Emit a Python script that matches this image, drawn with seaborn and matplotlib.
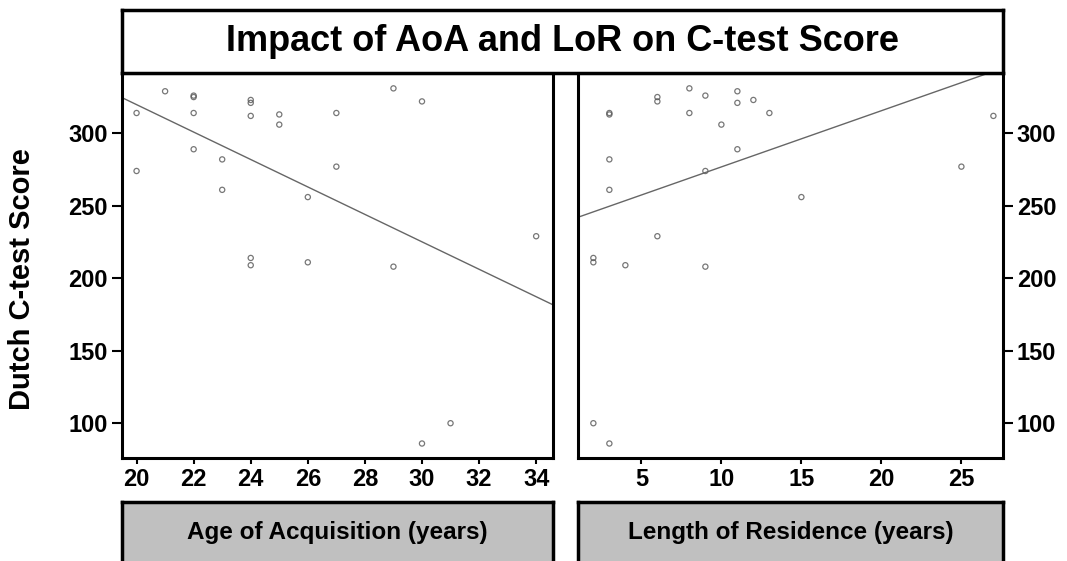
import matplotlib
matplotlib.use("Agg")
import matplotlib.pyplot as plt
import seaborn as sns
import pandas as pd

# Participants: age of acquisition, length of residence, Dutch C-test score
aoa = [30, 31, 34, 29, 24, 26, 24, 26, 23, 20, 27, 23, 22,
       25, 24, 25, 20, 22, 27, 24, 30, 24, 22, 22, 21, 29]
lor = [3, 2, 6, 9, 4, 2, 2, 15, 3, 9, 25, 3, 11,
       10, 27, 3, 3, 8, 13, 11, 6, 12, 6, 9, 11, 8]
score = [86, 100, 229, 208, 209, 211, 214, 256, 261, 274, 277, 282, 289,
         306, 312, 313, 314, 314, 314, 321, 322, 323, 325, 326, 329, 331]

title = "Impact of AoA and LoR on C-test Score"
ylabel = "Dutch C-test Score"
panel_labels = ["Age of Acquisition (years)", "Length of Residence (years)"]
aoa_ticks = [20, 22, 24, 26, 28, 30, 32, 34]
lor_ticks = [5, 10, 15, 20, 25]
score_ticks = [100, 150, 200, 250, 300]

df = pd.DataFrame({"aoa": aoa, "lor": lor, "score": score})

sns.set_theme(style="white")
plt.rcParams["font.family"] = ["Liberation Sans", "DejaVu Sans"]
plt.rcParams["font.weight"] = "bold"
plt.rcParams["text.color"] = "black"

W, H = 1067, 561
fig = plt.figure(figsize=(W / 100, H / 100), dpi=100)
fig.patch.set_facecolor("white")


def px_axes(x0, y0, x1, y1):
    return fig.add_axes([x0 / W, 1 - y1 / H, (x1 - x0) / W, (y1 - y0) / H])


ax_l = px_axes(122, 73, 553, 458)
ax_r = px_axes(578, 73, 1003, 458)
ax_t = px_axes(122, 10, 1003, 73)
strip_l = px_axes(122, 502, 553, 570)
strip_r = px_axes(578, 502, 1003, 570)

ylim = (76, 341.6)
scatter_kws = dict(s=14, facecolors="none", edgecolors="#555555", linewidths=0.9)
line_kws = dict(color="#666666", lw=1.0)

for ax, col, xlim, xt in [(ax_l, "aoa", (19.49, 34.59), aoa_ticks),
                          (ax_r, "lor", (1.04, 27.6), lor_ticks)]:
    ax.set_xlim(*xlim)
    ax.set_ylim(*ylim)
    sns.regplot(data=df, x=col, y="score", ax=ax, ci=None, truncate=False,
                scatter_kws=scatter_kws, line_kws=line_kws)
    ax.set_xlim(*xlim)
    ax.set_ylim(*ylim)
    ax.set_xlabel("")
    ax.set_ylabel("")
    ax.set_xticks(xt)
    ax.set_yticks(score_ticks)
    ax.set_facecolor("white")
    for sp in ax.spines.values():
        sp.set_visible(True)
        sp.set_color("black")
        sp.set_linewidth(2.2)
    ax.tick_params(axis="x", bottom=True, direction="out", length=4, width=1.5,
                   labelsize=17, pad=3, colors="black")
    ax.tick_params(axis="y", direction="out", length=7, width=1.5,
                   labelsize=17, pad=3, colors="black")
    for lbl in ax.get_xticklabels() + ax.get_yticklabels():
        lbl.set_fontweight("bold")

ax_l.tick_params(axis="y", left=True, right=False, labelleft=True, labelright=False)
ax_r.tick_params(axis="y", left=False, right=True, labelleft=False, labelright=True)

fig.text(22 / W, 1 - 279 / H, ylabel, rotation=90, ha="center", va="center",
         fontsize=21, fontweight="bold", color="black")

# Title banner
ax_t.set_xticks([])
ax_t.set_yticks([])
ax_t.set_facecolor("white")
for sp in ax_t.spines.values():
    sp.set_linewidth(2.5)
    sp.set_color("black")
ax_t.text(0.5, 0.5, title, ha="center", va="center", fontsize=26,
          fontweight="bold", color="black", transform=ax_t.transAxes)

# Grey strips naming each panel's variable
for ax, lab in [(strip_l, panel_labels[0]), (strip_r, panel_labels[1])]:
    ax.set_xticks([])
    ax.set_yticks([])
    ax.set_facecolor("#c0c0c0")
    for sp in ax.spines.values():
        sp.set_linewidth(2.5)
        sp.set_color("black")
    ax.text(0.5, 1 - 31 / 68, lab, ha="center", va="center", fontsize=17.5,
            fontweight="bold", color="black", transform=ax.transAxes)

fig.savefig("out.png", dpi=100, facecolor="white")
